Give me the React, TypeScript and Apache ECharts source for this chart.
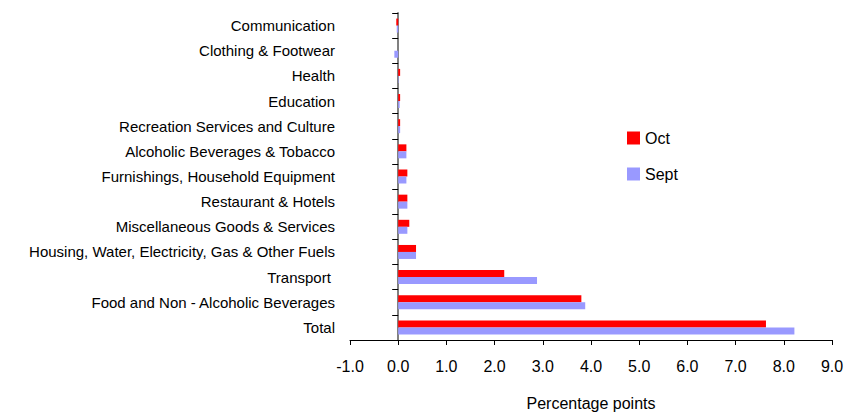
import React, { useEffect, useRef } from "react";
import * as echarts from "echarts";

// Contributions to inflation by division, in percentage points (bottom to top)
const categories = [
  "Total",
  "Food and Non - Alcoholic Beverages",
  "Transport ",
  "Housing, Water, Electricity, Gas & Other Fuels",
  "Miscellaneous Goods & Services",
  "Restaurant & Hotels",
  "Furnishings, Household Equipment",
  "Alcoholic Beverages & Tobacco",
  "Recreation Services and Culture",
  "Education",
  "Health",
  "Clothing & Footwear",
  "Communication",
];

const octValues = [7.63, 3.8, 2.2, 0.37, 0.23, 0.19, 0.19, 0.17, 0.04, 0.04, 0.04, 0.0, -0.04];
const septValues = [8.22, 3.88, 2.88, 0.37, 0.19, 0.19, 0.17, 0.17, 0.04, 0.03, 0.01, -0.08, -0.03];

const xTicks = { min: -1, max: 9, interval: 1 };

const FONT = "Liberation Sans, Arial, sans-serif";

export default function App() {
  const ref = useRef<HTMLDivElement>(null);

  useEffect(() => {
    if (!ref.current) return;
    const chart = echarts.init(ref.current, undefined, { renderer: "svg" });
    chart.setOption({
      animation: false,
      backgroundColor: "#ffffff",
      textStyle: { fontFamily: FONT },
      grid: { left: 350, right: 16, top: 13, bottom: 74, containLabel: false },
      legend: {
        data: ["Oct", "Sept"],
        orient: "vertical",
        left: 622,
        top: 125,
        itemWidth: 13,
        itemHeight: 13,
        itemGap: 20,
        icon: "rect",
        textStyle: { fontFamily: FONT, fontSize: 16, lineHeight: 16, color: "#000" },
      },
      xAxis: {
        type: "value",
        min: xTicks.min,
        max: xTicks.max,
        interval: xTicks.interval,
        name: "Percentage points",
        nameLocation: "middle",
        nameGap: 55,
        nameTextStyle: { fontFamily: FONT, fontSize: 16, color: "#000" },
        axisLine: { show: true, onZero: false, lineStyle: { color: "#000", width: 1 } },
        axisTick: { show: true, length: 5, lineStyle: { color: "#000" } },
        axisLabel: {
          fontFamily: FONT,
          fontSize: 16,
          color: "#000",
          margin: 18,
          formatter: (v: number) => v.toFixed(1),
        },
        splitLine: { show: false },
      },
      yAxis: [
        {
          // category names, pinned to the left edge of the plot
          type: "category",
          data: categories,
          position: "left",
          axisLine: { show: false, onZero: false },
          axisTick: { show: false },
          axisLabel: { fontFamily: FONT, fontSize: 15, color: "#000", margin: 15 },
        },
        {
          // axis line and ticks crossing at zero
          type: "category",
          data: categories,
          position: "left",
          axisLine: { show: true, onZero: true, lineStyle: { color: "#808080", width: 2 } },
          axisTick: { show: true, length: 6, lineStyle: { color: "#000", width: 1 } },
          axisLabel: { show: false },
        },
      ],
      series: [
        {
          name: "Oct",
          type: "bar",
          yAxisIndex: 0,
          data: octValues,
          itemStyle: { color: "#FF0000" },
          barWidth: 7,
          barGap: "0%",
          barCategoryGap: "45%",
        },
        {
          name: "Sept",
          type: "bar",
          yAxisIndex: 0,
          data: septValues,
          itemStyle: { color: "#9999FF" },
          barWidth: 7,
          barGap: "0%",
          barCategoryGap: "45%",
        },
      ],
    });
    return () => chart.dispose();
  }, []);

  return (
    <div
      ref={ref}
      style={{ position: "fixed", left: 0, top: 0, width: 848, height: 416 }}
    />
  );
}
